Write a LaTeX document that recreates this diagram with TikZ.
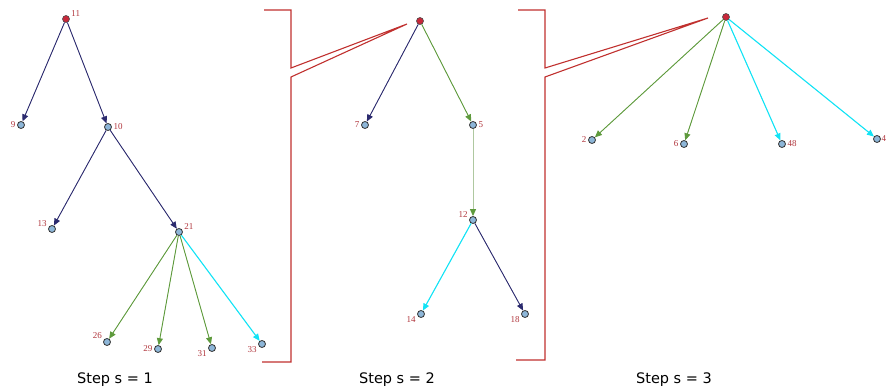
\documentclass[tikz,border=0pt]{standalone}
\usepackage{fontspec}
\setmainfont{Liberation Serif}
\newfontfamily\capfont{DejaVu Sans}
\usetikzlibrary{arrows.meta}
\definecolor{navyc}{HTML}{2B2A6E}
\definecolor{greenc}{HTML}{5E9A3C}
\definecolor{palegreen}{HTML}{AFC8A0}
\definecolor{cyanc}{HTML}{12E3F5}
\definecolor{lblred}{HTML}{B0353C}
\definecolor{brred}{HTML}{C0302E}
\definecolor{leaffill}{HTML}{8DB6D8}
\definecolor{rootfill}{HTML}{C8283A}
\tikzset{
  leaf/.style={circle,draw=black!80,fill=leaffill,line width=0.8pt,minimum size=7pt,inner sep=0pt},
  rootn/.style={circle,draw=black!70,fill=rootfill,line width=0.6pt,minimum size=7pt,inner sep=0pt},
  lbl/.style={text=lblred,font=\fontsize{9}{10}\selectfont,inner sep=1.5pt},
  edge/.style={line width=0.9pt,-{Triangle[length=7pt,width=6pt]}},
  navyedge/.style={edge,draw=navyc,fill=navyc},
  greenedge/.style={edge,draw=greenc,fill=greenc},
  paleedge/.style={line width=1pt,draw=palegreen,-{Triangle[length=7pt,width=6pt,fill=greenc,color=greenc]}},
  cyanedge/.style={edge,draw=cyanc,fill=cyanc,line width=1.1pt},
  bracket/.style={draw=brred,line width=1.1pt,line join=miter},
  captext/.style={font=\capfont\fontsize{14.5}{16}\selectfont,inner sep=0pt}
}
\begin{document}
\begin{tikzpicture}[x=1pt,y=-1pt]
\useasboundingbox (0,0) rectangle (887,387);
\clip (0,0) rectangle (887,387);

% ---- Step 1 ----
\node[rootn,label={[lbl]15:11}] (a11) at (66,19) {};
\node[leaf,label={[lbl]180:9}] (a9) at (21,125) {};
\node[leaf,label={[lbl]0:10}] (a10) at (108,127) {};
\node[leaf,label={[lbl]165:13}] (a13) at (52,229) {};
\node[leaf,label={[lbl]15:21}] (a21) at (179,232) {};
\node[leaf,label={[lbl]155:26}] (a26) at (107,342) {};
\node[leaf,label={[lbl]180:29}] (a29) at (158,349) {};
\node[leaf,label={[lbl]200:31}] (a31) at (212,348) {};
\node[leaf,label={[lbl]195:33}] (a33) at (262,344) {};
\draw[navyedge] (a11) -- (a9);
\draw[navyedge] (a11) -- (a10);
\draw[navyedge] (a10) -- (a13);
\draw[navyedge] (a10) -- (a21);
\draw[greenedge] (a21) -- (a26);
\draw[greenedge] (a21) -- (a29);
\draw[greenedge] (a21) -- (a31);
\draw[cyanedge] (a21) -- (a33);
\node[captext] (c1) at (115,380) {Step s = 1};

% ---- bracket 1 ----
\draw[bracket] (264,10) -- (291,10) -- (291,68) -- (407,24) -- (291,77) -- (291,362) -- (262,362);

% ---- Step 2 ----
\node[rootn] (b0) at (420,21) {};
\node[leaf,label={[lbl]180:7}] (b7) at (365,125) {};
\node[leaf,label={[lbl]0:5}] (b5) at (473,125) {};
\node[leaf,label={[lbl]165:12}] (b12) at (473,220) {};
\node[leaf,label={[lbl]195:14}] (b14) at (421,314) {};
\node[leaf,label={[lbl]195:18}] (b18) at (525,314) {};
\draw[navyedge] (b0) -- (b7);
\draw[greenedge] (b0) -- (b5);
\draw[paleedge] (b5) -- (b12);
\draw[cyanedge] (b12) -- (b14);
\draw[navyedge] (b12) -- (b18);
\node[captext] (c2) at (397,380) {Step s = 2};

% ---- bracket 2 ----
\draw[bracket] (518,10) -- (545,10) -- (545,68) -- (708,18) -- (545,77) -- (545,360) -- (516,360);

% ---- Step 3 ----
\node[rootn] (d0) at (726,17) {};
\node[leaf,label={[lbl]180:2}] (d2) at (592,140) {};
\node[leaf,label={[lbl]180:6}] (d6) at (684,144) {};
\node[leaf,label={[lbl]0:48}] (d48) at (782,144) {};
\node[leaf,label={[lbl,inner sep=0.5pt]0:4}] (d4) at (877,139) {};
\draw[greenedge] (d0) -- (d2);
\draw[greenedge] (d0) -- (d6);
\draw[cyanedge] (d0) -- (d48);
\draw[cyanedge] (d0) -- (d4);
\node[captext] (c3) at (674,380) {Step s = 3};
\end{tikzpicture}
\end{document}
